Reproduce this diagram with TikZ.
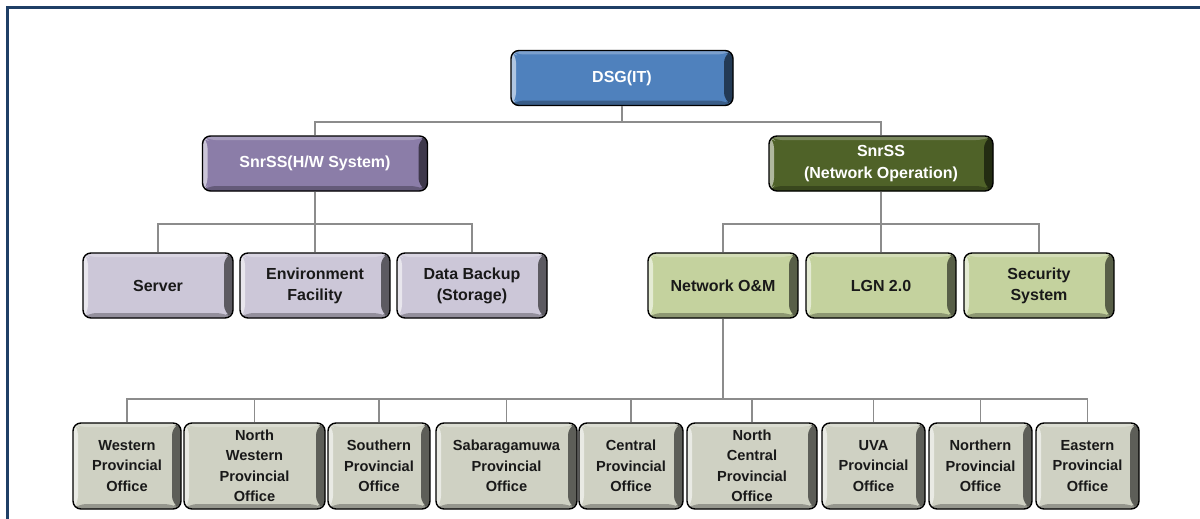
\documentclass[tikz,border=0pt]{standalone}
\usepackage{fontspec}
\setmainfont{Liberation Sans}
\usetikzlibrary{positioning}

\definecolor{frameblue}{HTML}{1F3F66}
\definecolor{topblue}{HTML}{4F81BD}
\definecolor{hwpurple}{HTML}{8B7DA8}
\definecolor{netolive}{HTML}{4F6228}
\definecolor{hwlight}{HTML}{CCC7D8}
\definecolor{netlight}{HTML}{C4D29E}
\definecolor{officegrey}{HTML}{CFD1C3}
\definecolor{linkgrey}{HTML}{8C8C8C}

\tikzset{
  % raised "button" look: light bevel left/top, dark bevel right/bottom
  bevel/.style={
    draw=black, line width=1.4pt, rounded corners=8pt, fill=#1,
    inner sep=0pt, align=center, font=\bfseries,
    path picture={
      \coordinate (pA) at (path picture bounding box.north west);
      \coordinate (pB) at (path picture bounding box.north east);
      \coordinate (pC) at (path picture bounding box.south east);
      \coordinate (pD) at (path picture bounding box.south west);
      \fill[#1!75!white] (pA) -- (pB) -- ([shift={(-9pt,-4pt)}]pB) -- ([shift={(5pt,-4pt)}]pA) -- cycle;
      \fill[#1!72!black] (pD) -- (pC) -- ([shift={(-9pt,5pt)}]pC) -- ([shift={(5pt,5pt)}]pD) -- cycle;
      \fill[#1!45!white] (pA) -- (pD) -- ([shift={(5pt,5pt)}]pD) -- ([shift={(5pt,-4pt)}]pA) -- cycle;
      \fill[#1!45!black] (pB) -- (pC) -- ([shift={(-9pt,5pt)}]pC) -- ([shift={(-9pt,-4pt)}]pB) -- cycle;
    }},
  headbox/.style={bevel=#1, text=white, font=\bfseries\fontsize{16}{21.5}\selectfont,
    minimum height=55pt},
  unitbox/.style={bevel=#1, text=black!90, font=\bfseries\fontsize{16}{21}\selectfont,
    minimum width=150pt, minimum height=65pt},
  officebox/.style={bevel=officegrey, text=black!90,
    font=\bfseries\fontsize{14.6}{20.5}\selectfont, minimum height=86pt},
  link/.style={draw=linkgrey, line width=1.8pt},
}

\begin{document}
\begin{tikzpicture}[x=1pt, y=-1pt]
\useasboundingbox (0,0) rectangle (1200,519);

% page frame
\draw[frameblue, line width=3.5pt] (1200,7.5) -- (7.5,7.5) -- (7.5,519);

% top level
\node[headbox=topblue, minimum width=222pt] (dsg) at (622,78) {DSG(IT)};

% second level
\node[headbox=hwpurple, minimum width=225pt] (hw) at (315,163.5) {SnrSS(H/W System)};
\node[headbox=netolive, minimum width=224pt] (net) at (881,163.5) {SnrSS\\(Network Operation)};

% third level
\node[unitbox=hwlight] (srv) at (158,285.5) {Server};
\node[unitbox=hwlight] (env) at (315,285.5) {Environment\\Facility};
\node[unitbox=hwlight] (bak) at (472,285.5) {Data Backup\\(Storage)};
\node[unitbox=netlight] (nom) at (723,285.5) {Network O\&M};
\node[unitbox=netlight] (lgn) at (881,285.5) {LGN 2.0};
\node[unitbox=netlight] (sec) at (1039,285.5) {Security\\System};

% provincial offices
\node[officebox, minimum width=108pt] (wpo)  at (127,466)    {Western\\Provincial\\Office};
\node[officebox, minimum width=141pt] (nwpo) at (254.5,466)  {North\\Western\\Provincial\\Office};
\node[officebox, minimum width=102pt] (spo)  at (379,466)    {Southern\\Provincial\\Office};
\node[officebox, minimum width=141pt] (sbpo) at (506.5,466)  {Sabaragamuwa\\Provincial\\Office};
\node[officebox, minimum width=104pt] (cpo)  at (631,466)    {Central\\Provincial\\Office};
\node[officebox, minimum width=130pt] (ncpo) at (752,466)    {North\\Central\\Provincial\\Office};
\node[officebox, minimum width=103pt] (upo)  at (873.5,466)  {UVA\\Provincial\\Office};
\node[officebox, minimum width=103pt] (npo)  at (980.5,466)  {Northern\\Provincial\\Office};
\node[officebox, minimum width=103pt] (epo)  at (1087.5,466) {Eastern\\Provincial\\Office};

% bus junctions
\coordinate (busA) at (622,122);
\coordinate (busB) at (315,224);
\coordinate (busC) at (881,224);
\coordinate (busD) at (723,399);

% connectors
\draw[link] (dsg.south) -- (busA) -| (hw.north);
\draw[link] (busA) -| (net.north);

\draw[link] (hw.south) -- (busB) -| (srv.north);
\draw[link] (busB) -- (env.north);
\draw[link] (busB) -| (bak.north);

\draw[link] (net.south) -- (busC) -| (nom.north);
\draw[link] (busC) -- (lgn.north);
\draw[link] (busC) -| (sec.north);

\draw[link] (nom.south) -- (busD);
\foreach \o in {wpo,nwpo,spo,sbpo,cpo,ncpo,upo,npo,epo}
  \draw[link] (busD) -| (\o.north);
\end{tikzpicture}
\end{document}
